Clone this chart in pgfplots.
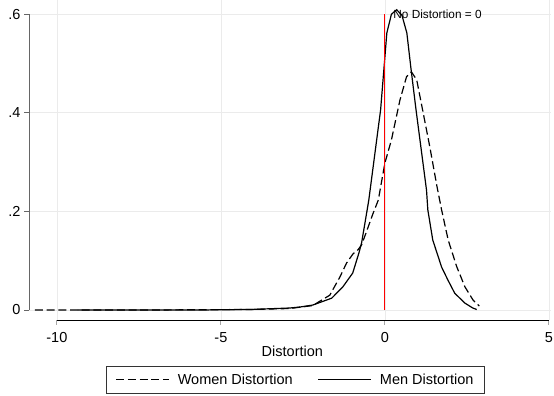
\documentclass[border=0pt]{standalone}
\usepackage{pgfplots}
\pgfplotsset{compat=1.18}
\usepackage{fontspec}
\setmainfont{Liberation Sans}
\begin{document}
\begin{tikzpicture}
\path[use as bounding box] (-29pt,-76pt) rectangle (525pt,320pt);
\begin{axis}[name=ax, at={(0pt,0pt)}, anchor=south west, scale only axis, width=521.5pt, height=319.6pt,
  xmin=-10.85, xmax=5.05, ymin=-0.0203, ymax=0.628,
  clip=false,
  axis line style={draw=none},
  xtick={-10,-5,0,5}, xticklabels={-10,-5,0,5},
  ytick={0,0.2,0.4,0.6}, yticklabels={0,.2,.4,.6},
  xtick pos=lower, ytick pos=left,
  tick align=outside, major tick length=5pt,
  x tick style={black!35, line width=0.8pt},
  y tick style={black!60, line width=0.8pt},
  grid=major, grid style={black!8, line width=0.7pt},
  tick label style={font=\fontsize{14.5}{17}\selectfont},
  xticklabel style={yshift=-4pt},
  xlabel={Distortion},
  xlabel style={font=\fontsize{14.5}{17}\selectfont, at={(axis description cs:0.505,-0.071)}, anchor=north},
  legend columns=2,
  legend style={at={(axis description cs:0.511,-0.144)}, anchor=north, draw=black!80, line width=0.6pt,
    font=\fontsize{14.5}{17}\selectfont, inner xsep=9pt, inner ysep=5.5pt,
    /tikz/every odd column/.append style={column sep=6pt},
    /tikz/every even column/.append style={column sep=23pt}},
  legend image code/.code={\draw[#1] (0pt,0pt) -- (53pt,0pt);},
]
\addplot[black, line width=1.2pt, dash pattern=on 8pt off 3.7pt] coordinates {
(-10.67,0) (-7.16,0) (-4.12,0.001) (-2.90,0.003) (-2.20,0.009) (-1.68,0.030)
(-1.37,0.067) (-1.17,0.095) (-0.97,0.114) (-0.82,0.122) (-0.71,0.132) (-0.56,0.159)
(-0.36,0.196) (-0.20,0.223) (0.0,0.298) (0.20,0.345) (0.46,0.426) (0.66,0.473)
(0.81,0.483) (0.97,0.467) (1.15,0.406) (1.37,0.331) (1.59,0.250) (1.73,0.203)
(1.93,0.142) (2.19,0.088) (2.44,0.047) (2.69,0.020) (2.88,0.008)
};
\addlegendentry{Women Distortion}
\addplot[black, line width=1.2pt] coordinates {
(-9.36,0) (-5.64,0) (-4.12,0.001) (-2.90,0.004) (-2.59,0.006) (-2.20,0.010)
(-1.62,0.024) (-1.28,0.047) (-0.98,0.075) (-0.79,0.116) (-0.71,0.136) (-0.54,0.203)
(-0.49,0.223) (-0.13,0.406) (0.06,0.562) (0.20,0.600) (0.36,0.609) (0.52,0.598) (0.67,0.562) (0.79,0.493)
(0.95,0.406) (1.27,0.243) (1.31,0.203) (1.46,0.142) (1.73,0.087) (1.92,0.061)
(2.13,0.034) (2.44,0.014) (2.68,0.004) (2.80,0.001)
};
\addlegendentry{Men Distortion}
\addplot[color=red, line width=1.2pt, forget plot] coordinates {(0,0) (0,0.6)};
\draw[black!60, line width=0.8pt] (axis cs:-10.85,0) -- (axis cs:-10.85,0.6);
\draw[black, line width=0.8pt] (axis cs:-10,-0.0203) -- (axis cs:5,-0.0203);
\node[anchor=west, font=\fontsize{11.8}{13}\selectfont, xshift=5pt] at (axis cs:0,0.6) {No Distortion = 0};
\end{axis}
\end{tikzpicture}
\end{document}
